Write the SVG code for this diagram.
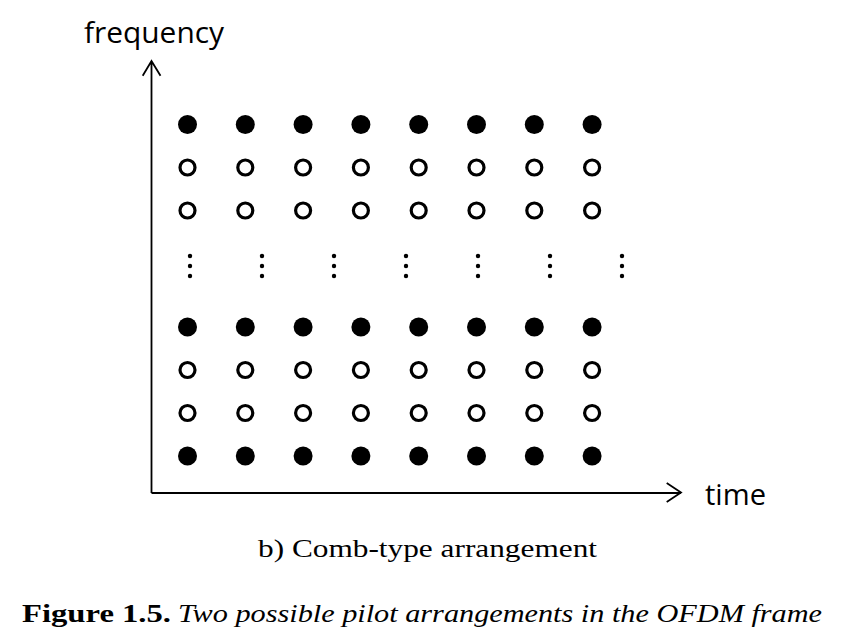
<svg xmlns="http://www.w3.org/2000/svg" xmlns:xlink="http://www.w3.org/1999/xlink" width="856" height="643" viewBox="0 0 856 643">
<style>
.axis{stroke:#000;stroke-width:1.8;fill:none}
.pilot{fill:#000}
.data{fill:none;stroke:#000;stroke-width:3.2}
.vd{fill:#000}
.lbl{font-family:"Open Sans","Liberation Sans",sans-serif;font-size:29px;fill:#000}
.cap{font-family:"Liberation Serif","DejaVu Serif",serif;font-size:26px;fill:#000}
</style>
<defs>
<circle id="p" r="9.5" class="pilot"/>
<circle id="d" r="7.5" class="data"/>
<g id="vdots"><circle cx="0" cy="256" r="2.2" class="vd"/><circle cx="0" cy="266" r="2.2" class="vd"/><circle cx="0" cy="276" r="2.2" class="vd"/></g>
</defs>
<rect width="856" height="643" fill="#fff"/>
<g id="connectors">
<path class="axis" d="M151.5 493 V61 M142.7 75.7 L151.5 61 L160.5 75.7"/>
<path class="axis" d="M151.5 493 H681 M666.7 483 L681 492.5 L666.7 502"/>
</g>
<text class="lbl" x="84" y="43" textLength="140" lengthAdjust="spacingAndGlyphs">frequency</text>
<text class="lbl" x="705" y="505" textLength="61" lengthAdjust="spacingAndGlyphs">time</text>
<g id="row1-pilots">
<use href="#p" x="187.5" y="124.5"/><use href="#p" x="245.3" y="124.5"/><use href="#p" x="303.1" y="124.5"/><use href="#p" x="360.9" y="124.5"/><use href="#p" x="418.7" y="124.5"/><use href="#p" x="476.5" y="124.5"/><use href="#p" x="534.3" y="124.5"/><use href="#p" x="592.1" y="124.5"/>
</g>
<g id="row2-data">
<use href="#d" x="187.5" y="167.5"/><use href="#d" x="245.3" y="167.5"/><use href="#d" x="303.1" y="167.5"/><use href="#d" x="360.9" y="167.5"/><use href="#d" x="418.7" y="167.5"/><use href="#d" x="476.5" y="167.5"/><use href="#d" x="534.3" y="167.5"/><use href="#d" x="592.1" y="167.5"/>
</g>
<g id="row3-data">
<use href="#d" x="187.5" y="210.5"/><use href="#d" x="245.3" y="210.5"/><use href="#d" x="303.1" y="210.5"/><use href="#d" x="360.9" y="210.5"/><use href="#d" x="418.7" y="210.5"/><use href="#d" x="476.5" y="210.5"/><use href="#d" x="534.3" y="210.5"/><use href="#d" x="592.1" y="210.5"/>
</g>
<g id="ellipsis">
<use href="#vdots" x="190"/><use href="#vdots" x="262"/><use href="#vdots" x="334"/><use href="#vdots" x="406"/><use href="#vdots" x="478"/><use href="#vdots" x="550"/><use href="#vdots" x="622"/>
</g>
<g id="row4-pilots">
<use href="#p" x="187.5" y="327"/><use href="#p" x="245.3" y="327"/><use href="#p" x="303.1" y="327"/><use href="#p" x="360.9" y="327"/><use href="#p" x="418.7" y="327"/><use href="#p" x="476.5" y="327"/><use href="#p" x="534.3" y="327"/><use href="#p" x="592.1" y="327"/>
</g>
<g id="row5-data">
<use href="#d" x="187.5" y="370"/><use href="#d" x="245.3" y="370"/><use href="#d" x="303.1" y="370"/><use href="#d" x="360.9" y="370"/><use href="#d" x="418.7" y="370"/><use href="#d" x="476.5" y="370"/><use href="#d" x="534.3" y="370"/><use href="#d" x="592.1" y="370"/>
</g>
<g id="row6-data">
<use href="#d" x="187.5" y="413"/><use href="#d" x="245.3" y="413"/><use href="#d" x="303.1" y="413"/><use href="#d" x="360.9" y="413"/><use href="#d" x="418.7" y="413"/><use href="#d" x="476.5" y="413"/><use href="#d" x="534.3" y="413"/><use href="#d" x="592.1" y="413"/>
</g>
<g id="row7-pilots">
<use href="#p" x="187.5" y="456"/><use href="#p" x="245.3" y="456"/><use href="#p" x="303.1" y="456"/><use href="#p" x="360.9" y="456"/><use href="#p" x="418.7" y="456"/><use href="#p" x="476.5" y="456"/><use href="#p" x="534.3" y="456"/><use href="#p" x="592.1" y="456"/>
</g>
<text class="cap" x="258" y="557" textLength="339" lengthAdjust="spacingAndGlyphs">b) Comb-type arrangement</text>
<text class="cap" x="22" y="622" font-weight="bold" textLength="149" lengthAdjust="spacingAndGlyphs">Figure 1.5.</text>
<text class="cap" x="178" y="622" font-style="italic" textLength="644" lengthAdjust="spacingAndGlyphs">Two possible pilot arrangements in the OFDM frame</text>
</svg>
